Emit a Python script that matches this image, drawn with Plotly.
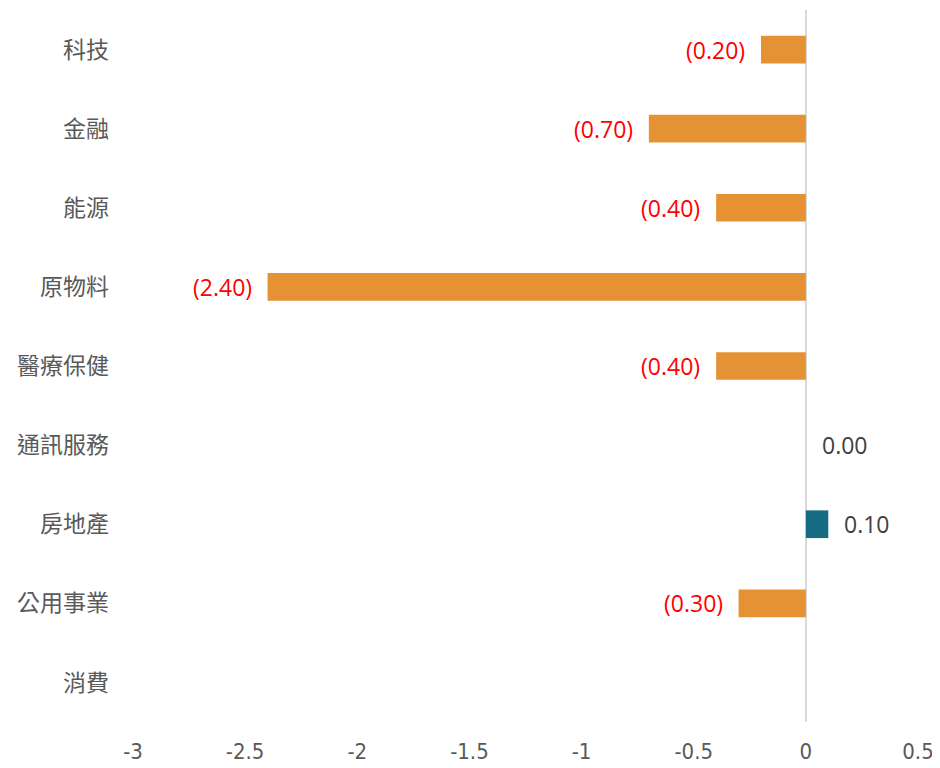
import plotly.graph_objects as go

categories = ["科技", "金融", "能源", "原物料", "醫療保健", "通訊服務", "房地產", "公用事業", "消費"]
values = [-0.20, -0.70, -0.40, -2.40, -0.40, 0.00, 0.10, -0.30, None]
tick_vals = [-3, -2.5, -2, -1.5, -1, -0.5, 0, 0.5]
tick_text = ["-3", "-2.5", "-2", "-1.5", "-1", "-0.5", "0", "0.5"]

NEG = "#E59234"
POS = "#156B82"

colors = [POS if (v is not None and v > 0) else NEG for v in values]

fig = go.Figure()
fig.add_trace(go.Bar(
    x=values, y=categories, orientation="h",
    marker=dict(color=colors, line=dict(width=0)),
    width=0.35, hoverinfo="x+y",
))

annotations = []
for c, v in zip(categories, values):
    if v is None:
        continue
    if v < 0:
        annotations.append(dict(x=v, y=c, xref="x", yref="y", text=f"({abs(v):.2f})",
                                showarrow=False, xanchor="right", xshift=-14,
                                font=dict(color="#FF0000", size=23, family="Open Sans, Noto Sans")))
    else:
        annotations.append(dict(x=v, y=c, xref="x", yref="y", text=f"{v:.2f}",
                                showarrow=False, xanchor="left", xshift=14,
                                font=dict(color="#404040", size=23, family="Open Sans, Noto Sans")))

fig.update_layout(
    width=932, height=760,
    margin=dict(l=125, r=22, t=2, b=46, autoexpand=False),
    plot_bgcolor="white", paper_bgcolor="white",
    showlegend=False,
    bargap=0.65,
    annotations=annotations,
    xaxis=dict(range=[-3, 0.5], tickvals=tick_vals, ticktext=tick_text, automargin=False,
               showgrid=False, zeroline=True, zerolinecolor="#D9D9D9", zerolinewidth=2,
               showline=False, ticks="", ticklabelstandoff=14,
               tickfont=dict(size=22, color="#595959",
                             family="Liberation Sans Narrow, DejaVu Sans Condensed, Roboto")),
    yaxis=dict(autorange="reversed", showgrid=False, zeroline=False, showline=False,
               ticks="", ticklabelstandoff=23, automargin=False,
               tickfont=dict(size=23, color="#595959", family="Noto Sans CJK TC")),
)

fig.write_html("out.html")
